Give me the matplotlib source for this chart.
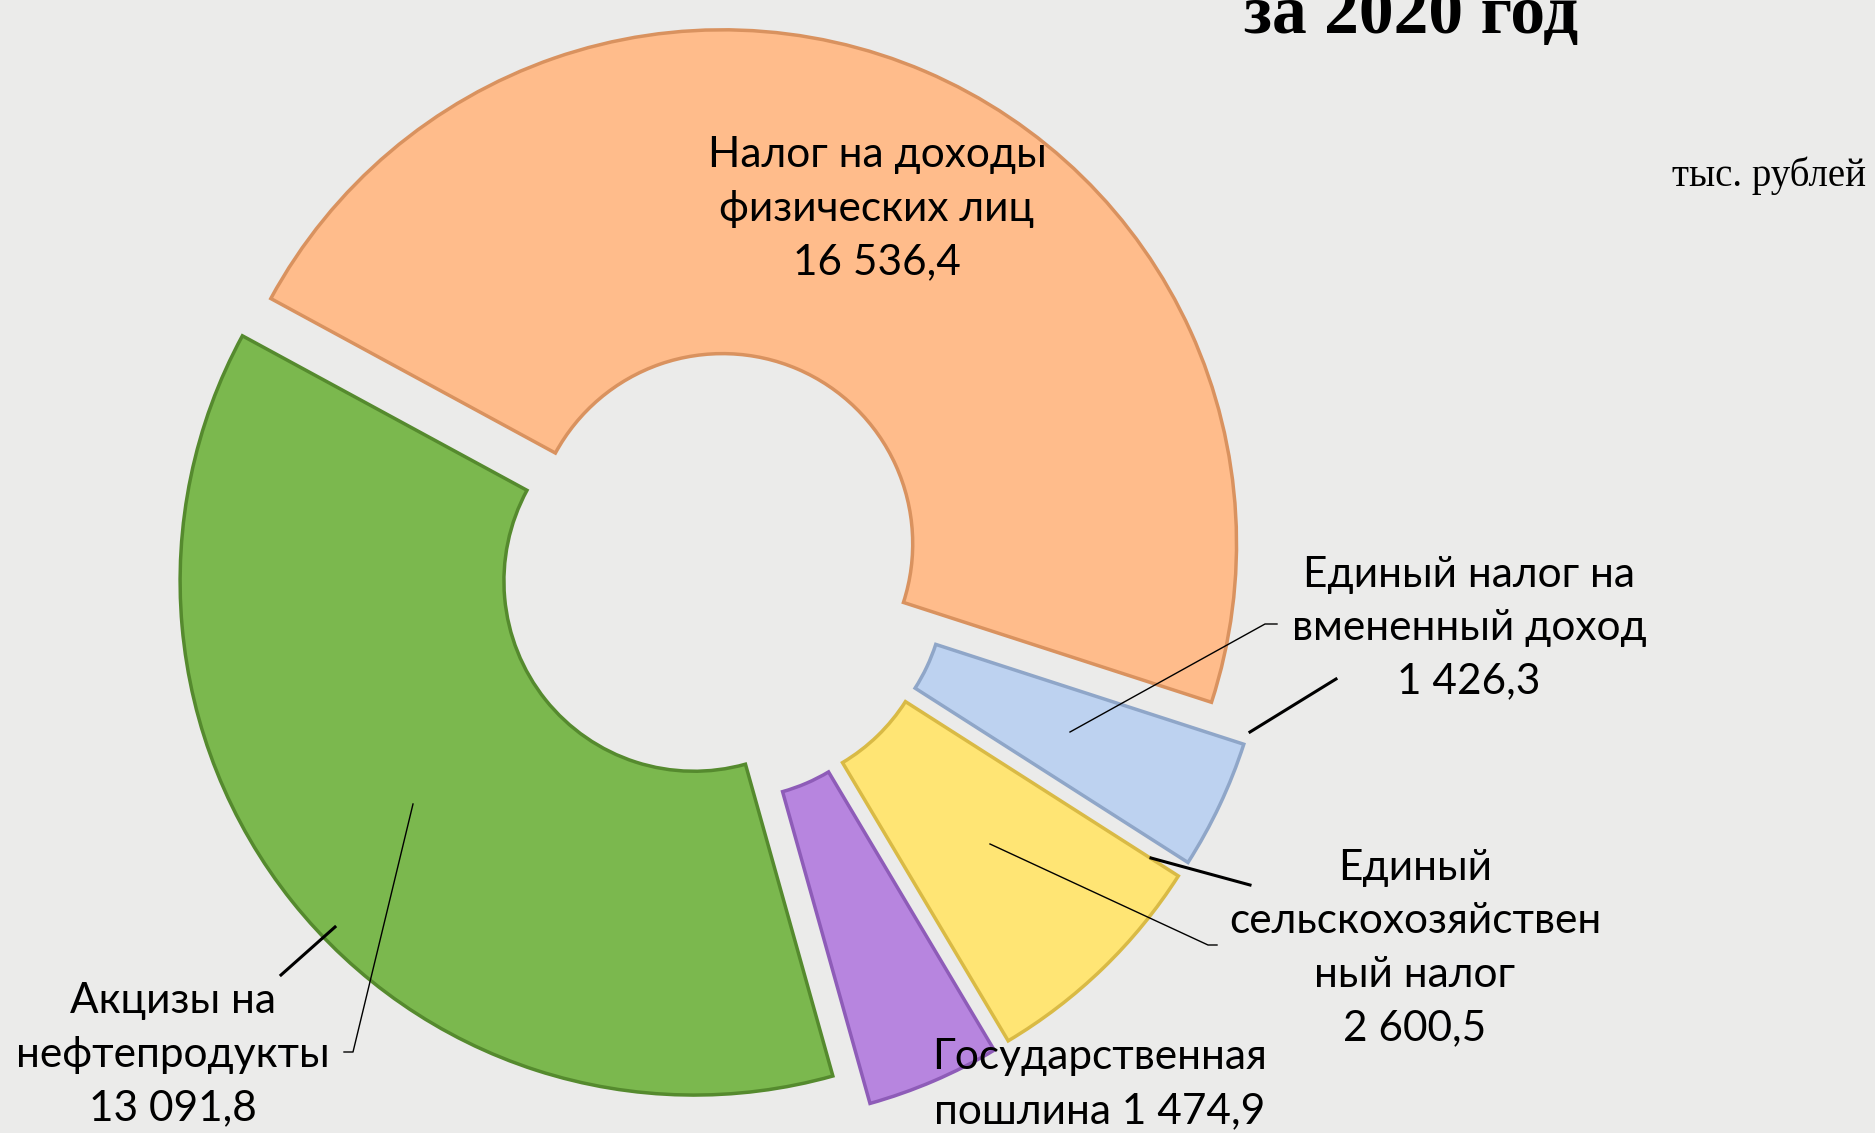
import matplotlib.pyplot as plt

# данные
labels = ['Налог на доходы\nфизических лиц\n16 536,4',
          'Единый налог на\nвмененный доход\n1 426,3',
          'Единый\nсельскохозяйствен\nный налог\n2 600,5',
          'Государственная\nпошлина 1 474,9',
          'Акцизы на\nнефтепродукты\n13 091,8']
values = [16536.4, 1426.3, 2600.5, 1474.9, 13091.8]
colors = ['#FFBC8B', '#BDD2F0', '#FFE574', '#B785DF', '#7BB84E']
edges = ['#D9925F', '#8FA6C8', '#D9BA45', '#8E5CB8', '#558A2E']
explode_frac = [0.047, 0.09, 0.09, 0.09, 0.047]

W, H = 1875, 1133
fig = plt.figure(figsize=(W / 100, H / 100), dpi=100)
fig.patch.set_facecolor('#EBEBEA')
ax = fig.add_axes([0, 0, 1, 1])

R = 514
wedges, _ = ax.pie(values, colors=colors, explode=[e * R for e in explode_frac],
                   startangle=151.5, counterclock=False, center=(713, 567),
                   radius=R, wedgeprops=dict(width=R * 0.63, linewidth=2.5),
                   frame=True)
for w, ec in zip(wedges, edges):
    w.set_edgecolor(ec)
ax.set_xlim(0, W)
ax.set_ylim(0, H)
ax.set_aspect('equal')
ax.axis('off')

font = 'Lato'
fs = 30.5
ls = 1.5

# подписи
ax.text(877, 924, labels[0], ha='center', va='center', fontsize=fs,
        family=font, linespacing=ls)
ax.text(1469, 505, labels[1], ha='center', va='center', fontsize=fs,
        family=font, linespacing=ls)
ax.text(1415, 185, labels[2], ha='center', va='center', fontsize=fs,
        family=font, linespacing=ls)
ax.text(1100, 49, labels[3], ha='center', va='center', fontsize=fs,
        family=font, linespacing=ls)
ax.text(173, 78, labels[4], ha='center', va='center', fontsize=fs,
        family=font, linespacing=ls)

# выноски
ax.plot([1070, 1265, 1277], [401, 509, 509], color='black', lw=1)
ax.plot([990, 1208, 1217], [289, 188, 188], color='black', lw=1)
ax.plot([413, 353, 344], [329, 81, 81], color='black', lw=1)
ax.plot([1250, 1336], [401, 454], color='black', lw=2.2)
ax.plot([1151, 1250], [275, 248], color='black', lw=2.2)
ax.plot([335, 281], [206, 158], color='black', lw=2.2)

# заголовок
ax.text(1411, 1100, 'за 2020 год', ha='center', va='baseline', fontsize=50,
        family='Liberation Serif', fontweight='bold')
ax.text(1866, H - 176, 'тыс. рублей', ha='right', va='center',
        fontsize=28, family='Liberation Serif')

fig.savefig('out.png', dpi=100, facecolor=fig.get_facecolor())
